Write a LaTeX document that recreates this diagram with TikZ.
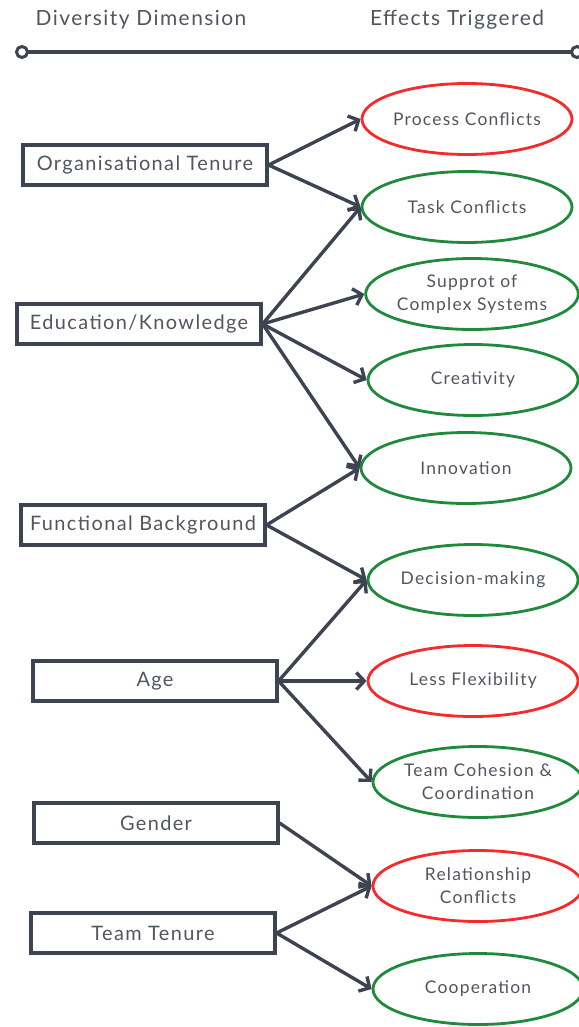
\documentclass[tikz,border=0pt]{standalone}
\usepackage{fontspec}
\setmainfont[LetterSpace=7]{Lato}
\usetikzlibrary{arrows.meta,shapes.geometric}
\definecolor{slate}{HTML}{3D4350}
\definecolor{txtgray}{HTML}{50555F}
\definecolor{effred}{HTML}{F52A2A}
\definecolor{effgreen}{HTML}{1F8A3B}
\tikzset{
  dimbox/.style  = {draw=slate, line width=3.2bp, minimum width=244bp,
                    minimum height=40bp, inner sep=0pt, text=txtgray,
                    font=\fontsize{20}{23}\selectfont},
  effnode/.style = {ellipse, line width=2.8bp, minimum width=210bp,
                    minimum height=71bp, inner sep=0pt, align=center,
                    text=txtgray, font=\fontsize{17.5}{23}\selectfont},
  effbad/.style  = {effnode, draw=effred},
  effgood/.style = {effnode, draw=effgreen},
  effar/.style   = {-{Straight Barb[length=8bp,width=17bp]}, slate, line width=3.4bp},
  headtxt/.style = {text=txtgray, font=\fontsize{21}{24}\selectfont},
  endring/.style = {circle, draw=slate, fill=white, line width=3bp,
                    minimum size=11bp, inner sep=0pt}
}

\begin{document}
\begin{tikzpicture}[x=1bp,y=-1bp]
  \useasboundingbox (0,0) rectangle (579,1027);
  % header
  \node[headtxt] (hdim) at (141,20) {Diversity Dimension};
  \node[headtxt] (heff) at (457,20) {Effects Triggered};
  \coordinate (lstart) at (22,52);
  \coordinate (lstop)  at (577,52);
  \draw[slate, line width=3.4bp] (lstart) -- (lstop);
  \node[endring] at (lstart) {};
  \node[endring] at (lstop) {};
  % diversity dimensions
  \node[dimbox] (tenure)  at (145,165) {Organisational Tenure};
  \node[dimbox] (educ)    at (139,324) {Education/Knowledge};
  \node[dimbox] (funct)   at (143,525) {Functional Background};
  \node[dimbox] (age)     at (155,681) {Age};
  \node[dimbox] (gender)  at (156,823) {Gender};
  \node[dimbox] (teamten) at (153,933) {Team Tenure};
  % effects
  \node[effbad]  (process)  at (467,119) {Process Conflicts};
  \node[effgood] (task)     at (467,207) {Task Conflicts};
  \node[effgood] (support)  at (472,294) {Supprot of\\Complex Systems};
  \node[effgood] (creat)    at (473,380) {Creativity};
  \node[effgood] (innov)    at (466,468) {Innovation};
  \node[effgood] (decis)    at (473,580) {Decision-making};
  \node[effbad]  (lessflex) at (473,681) {Less Flexibility};
  \node[effgood] (cohes)    at (478,782) {Team Cohesion \&\\Coordination};
  \node[effbad]  (relat)    at (478,886) {Relationship\\Conflicts};
  \node[effgood] (coop)     at (478,989) {Cooperation};
  % connectors
  \foreach \src/\dst in {tenure/process, tenure/task,
      educ/task, educ/support, educ/creat, educ/innov,
      funct/innov, funct/decis,
      age/decis, age/lessflex, age/cohes,
      gender/relat, teamten/relat, teamten/coop}
    \draw[effar] (\src.east) -- (\dst.west);
\end{tikzpicture}
\end{document}
